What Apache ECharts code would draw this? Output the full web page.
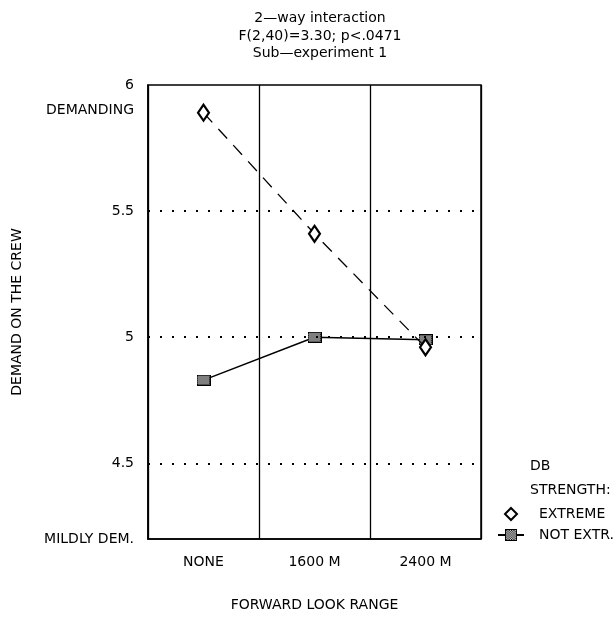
<!DOCTYPE html>
<html>
<head>
<meta charset="utf-8">
<script src="https://cdn.jsdelivr.net/npm/echarts@6/dist/echarts.min.js"></script>
<style>html,body{margin:0;padding:0;background:#fff;}#c{width:616px;height:617px;}</style>
</head>
<body>
<div id="c"></div>
<script>
const titleLines = ['2\u2014way interaction', 'F(2,40)=3.30; p<.0471', 'Sub\u2014experiment 1'];
const categories = ['NONE', '1600 M', '2400 M'];
const extremeValues = [5.89, 5.41, 4.96];
const notExtrValues = [4.83, 5.00, 4.99];
const yTickValues = ['6.0', '5.9', '5.5', '5.0', '4.5', '4.2'];
const yTickLabels = ['6', 'DEMANDING', '5.5', '5', '4.5', 'MILDLY DEM.'];
const gridLineValues = [5.5, 5.0, 4.5];
const seriesNames = ['EXTREME', 'NOT EXTR.'];
const legendTitle = 'DB\nSTRENGTH:';
const xName = 'FORWARD LOOK RANGE';
const yName = 'DEMAND ON THE CREW';

// crosshatched square marker image for NOT EXTR.
function hatchMarker(w, h) {
  const c = document.createElement('canvas');
  c.width = w; c.height = h;
  const g = c.getContext('2d');
  g.fillStyle = '#fff'; g.fillRect(0, 0, w, h);
  g.fillStyle = '#000';
  for (let y = 0; y < h; y++) {
    for (let x = 0; x < w; x++) {
      if ((x + y) % 2 === 0) g.fillRect(x, y, 1, 1);
    }
  }
  g.strokeStyle = '#000'; g.lineWidth = 1;
  g.strokeRect(0.5, 0.5, w - 1, h - 1);
  return 'image://' + c.toDataURL();
}
const hatch = hatchMarker(14, 11);

const FONT = '"DejaVu Sans", Arial, sans-serif';
const FS = 14;
const chart = echarts.init(document.getElementById('c'), null, {renderer: 'canvas'});
const labelMap = {};
yTickValues.forEach((v, i) => labelMap[v] = yTickLabels[i]);

chart.setOption({
  animation: false,
  backgroundColor: '#fff',
  title: [
    {
      text: titleLines.join('\n'),
      left: 315, top: 5, textAlign: 'center',
      textStyle: {fontFamily: FONT, fontSize: FS, fontWeight: 'normal', color: '#000', lineHeight: 17.5}
    },
    {
      text: legendTitle,
      left: 525, top: 449,
      textStyle: {fontFamily: FONT, fontSize: FS, fontWeight: 'normal', color: '#000', lineHeight: 24}
    }
  ],
  legend: {
    orient: 'vertical',
    left: 492, top: 502,
    itemWidth: 26, itemHeight: 15, itemGap: 7,
    textStyle: {fontFamily: FONT, fontSize: FS, color: '#000', padding: [0, 0, 0, 10]},
    data: [
      {name: seriesNames[0], lineStyle: {opacity: 0}},
      {name: seriesNames[1]}
    ]
  },
  grid: {left: 148, right: 135, top: 85, bottom: 78, show: true, borderColor: '#000', borderWidth: 1.5},
  xAxis: {
    type: 'category',
    data: categories,
    boundaryGap: true,
    axisLine: {show: true, lineStyle: {color: '#000', width: 1.5}},
    axisTick: {show: false},
    axisLabel: {fontFamily: FONT, fontSize: FS, color: '#000', margin: 16},
    splitLine: {show: true, lineStyle: {color: '#000', width: 1.3, type: 'solid'}},
    name: xName,
    nameLocation: 'middle',
    nameGap: 59,
    nameTextStyle: {fontFamily: FONT, fontSize: FS, color: '#000'}
  },
  yAxis: {
    type: 'value',
    min: 4.2, max: 6.0, interval: 0.1,
    axisLine: {show: true, lineStyle: {color: '#000', width: 1.5}},
    axisTick: {show: false},
    splitLine: {show: false},
    axisLabel: {
      fontFamily: FONT, fontSize: FS, color: '#000', margin: 14,
      formatter: function (v) {
        const k = (Math.round(v * 10) / 10).toFixed(1);
        return labelMap[k] || '';
      }
    },
    name: yName,
    nameLocation: 'middle',
    nameGap: 124,
    nameRotate: 90,
    nameTextStyle: {fontFamily: FONT, fontSize: FS, color: '#000'}
  },
  series: [
    {
      name: seriesNames[0],
      type: 'line',
      data: extremeValues,
      symbol: 'diamond',
      symbolSize: [11, 16],
      z: 4,
      lineStyle: {color: '#000', width: 1.3, type: [13, 9]},
      itemStyle: {color: '#fff', borderColor: '#000', borderWidth: 2.2},
      markLine: {
        silent: true,
        symbol: ['none', 'none'],
        label: {show: false},
        lineStyle: {color: '#000', width: 2, type: [2, 10]},
        data: gridLineValues.map(v => ({yAxis: v}))
      }
    },
    {
      name: seriesNames[1],
      type: 'line',
      data: notExtrValues,
      symbol: hatch,
      symbolSize: [14, 11],
      z: 3,
      lineStyle: {color: '#000', width: 1.5, type: 'solid'},
      itemStyle: {color: '#666'}
    }
  ]
});
</script>
</body>
</html>
